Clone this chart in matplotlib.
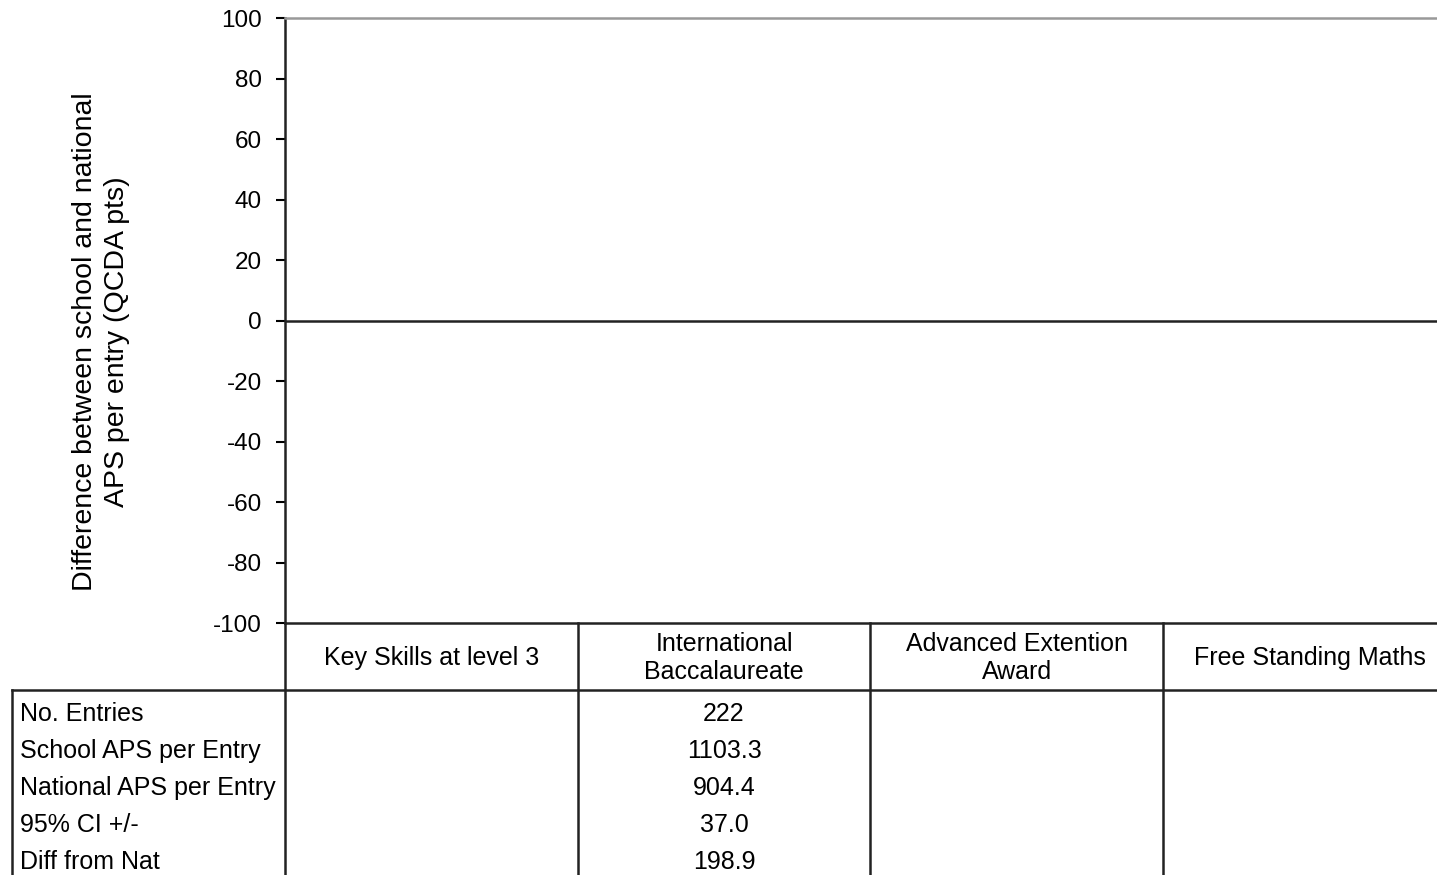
import matplotlib
matplotlib.use("Agg")
import matplotlib.pyplot as plt
import matplotlib.transforms as mtransforms
import numpy as np

plt.rcParams['font.family'] = ['Liberation Sans', 'DejaVu Sans']
plt.rcParams['axes.unicode_minus'] = False

# data
categories = ['Key Skills at level 3', 'International\nBaccalaureate',
              'Advanced Extention\nAward', 'Free Standing Maths']
row_labels = ['No. Entries', 'School APS per Entry', 'National APS per Entry',
              '95% CI +/-', 'Diff from Nat']
no_entries = [None, 222, None, None]
school_aps = [None, 1103.3, None, None]
national_aps = [None, 904.4, None, None]
ci95 = [None, 37.0, None, None]
diff_nat = [None, 198.9, None, None]
yticks = [100, 80, 60, 40, 20, 0, -20, -40, -60, -80, -100]

W, H = 1437, 875
fig = plt.figure(figsize=(W / 100, H / 100), dpi=100)

# pixel layout of the plot area
ax_l, ax_r, ax_t, ax_b = 285, 1437, 18, 623
col_px = 292.7
ax = fig.add_axes([ax_l / W, (H - ax_b) / H, (ax_r - ax_l) / W, (ax_b - ax_t) / H])

x = np.arange(len(categories)) + 0.5
y = np.array([np.nan if v is None else v for v in diff_nat], dtype=float)
err = np.array([np.nan if v is None else v for v in ci95], dtype=float)
# the only point (198.9) lies above the axis range, so it is clipped away
ax.errorbar(x, y, yerr=err, fmt='D', color='#000080', ecolor='black', capsize=6)

ax.set_xlim(0, (ax_r - ax_l) / col_px)
ax.set_ylim(-100, 100)
ax.set_yticks(yticks)
ax.set_xticks([])
ax.tick_params(axis='y', direction='out', length=6.5, width=1.5, pad=10,
               labelsize=17.5, colors='black')
ax.axhline(0, color='#222222', lw=1.8, zorder=3)

ax.spines['right'].set_visible(False)
ax.spines['top'].set_color('#999999')
ax.spines['top'].set_linewidth(1.8)
ax.spines['left'].set_color('#222222')
ax.spines['left'].set_linewidth(1.8)
ax.spines['bottom'].set_color('#222222')
ax.spines['bottom'].set_linewidth(1.8)

fig.text(101 / W, 1 - 342 / H,
         'Difference between school and national\nAPS per entry (QCDA pts)',
         rotation=90, ha='center', va='center', fontsize=20.5, linespacing=1.3)

# table underneath the plot, x in data units, y in axes fraction
trans = mtransforms.blended_transform_factory(ax.transData, ax.transAxes)


def yfrac(p):
    return (ax_b - p) / (ax_b - ax_t)


lw = 1.8
lc = '#222222'
left_x = (12 - ax_l) / col_px
right_x = (ax_r - ax_l) / col_px
bottom_y = yfrac(H + 5)
head_y = yfrac(690)

ax.plot([left_x, right_x], [head_y, head_y], color=lc, lw=lw,
        transform=trans, clip_on=False)
ax.plot([left_x, left_x], [head_y, bottom_y], color=lc, lw=lw,
        transform=trans, clip_on=False)
for i in range(len(categories) + 1):
    ax.plot([i, i], [0, bottom_y], color=lc, lw=lw,
            transform=trans, clip_on=False)

for xi, lab in zip(x, categories):
    ax.text(xi, yfrac(658), lab, transform=trans, ha='center', va='center',
            fontsize=18, linespacing=1.2, clip_on=False)

rows = [no_entries, school_aps, national_aps, ci95, diff_nat]
for r, (lab, vals) in enumerate(zip(row_labels, rows)):
    yy = yfrac(714 + 37 * r)
    ax.text((20 - ax_l) / col_px, yy, lab, transform=trans, ha='left',
            va='center', fontsize=18, clip_on=False)
    for xi, v in zip(x, vals):
        if v is None:
            continue
        txt = str(v) if isinstance(v, int) else f'{v:.1f}'
        ax.text(xi, yy, txt, transform=trans, ha='center', va='center',
                fontsize=18, clip_on=False)

fig.savefig('out.png', dpi=100)
